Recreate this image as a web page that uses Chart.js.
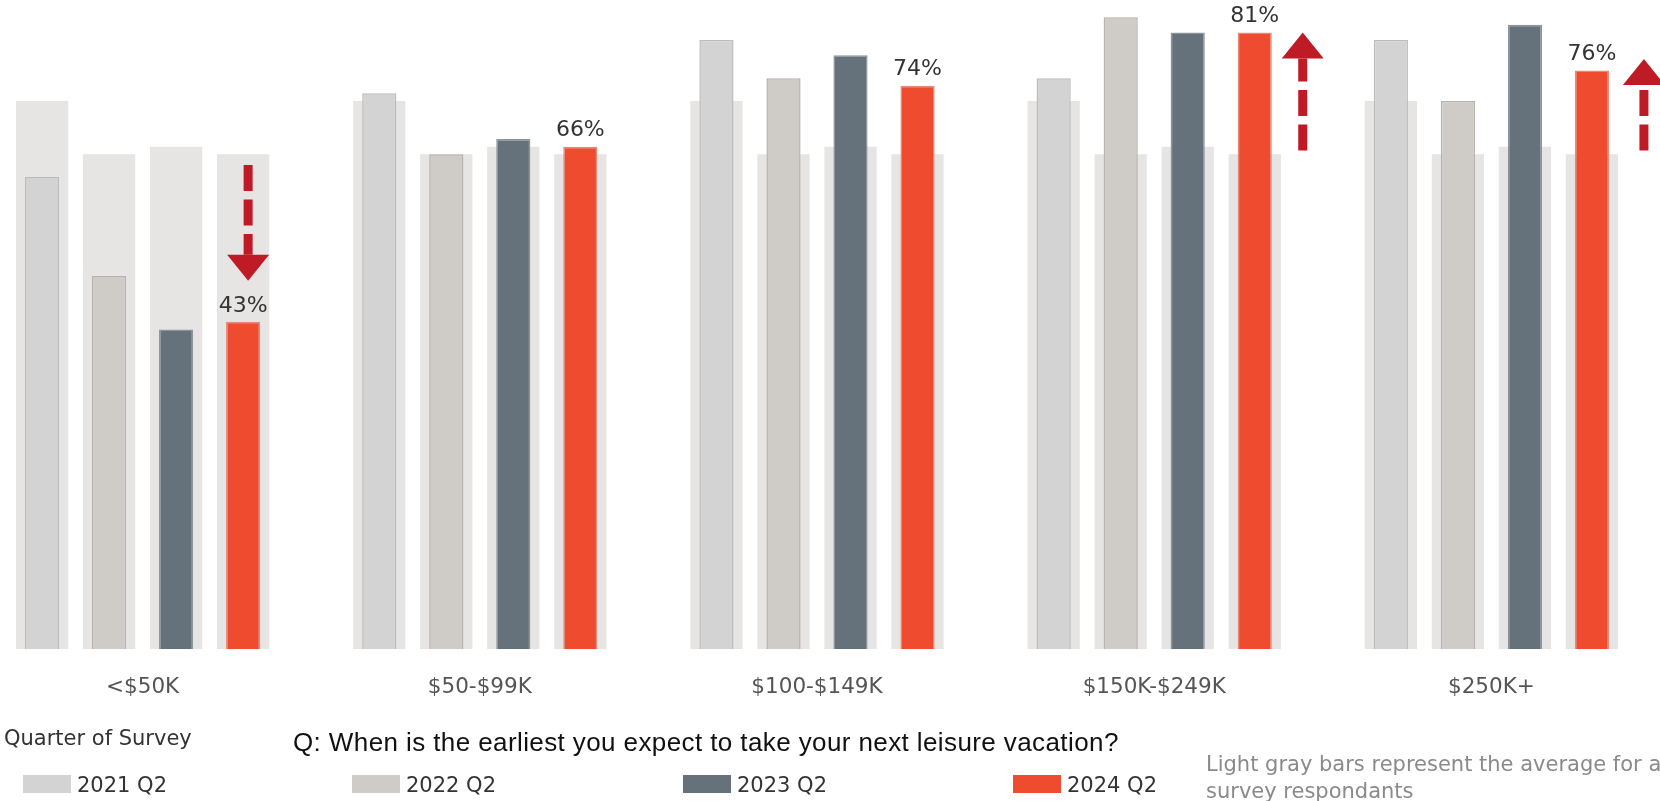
<!DOCTYPE html>
<html>
<head>
<meta charset="utf-8">
<script src="https://cdn.jsdelivr.net/npm/chart.js@4/dist/chart.umd.min.js"></script>
<style>
  html, body { margin: 0; padding: 0; background: #fff; }
  body { width: 1660px; height: 801px; overflow: hidden; position: relative; }
  #wrap { position: absolute; left: -26px; top: 0; width: 1686px; height: 801px; }
  .txt { position: absolute; white-space: nowrap; line-height: 1; }
  .dv { font-family: "DejaVu Sans", Verdana, sans-serif; font-size: 21px; color: #333; }
  .sw { position: absolute; top: 775px; width: 48px; height: 18px; }
</style>
</head>
<body>
<div id="wrap"><canvas id="myBarChart"></canvas></div>

<div class="txt dv" style="left:4px; top:728px;">Quarter of Survey</div>
<div class="txt" style="left:293px; top:729px; font-family:'Liberation Sans', Arial, sans-serif; font-size:26px; letter-spacing:0.4px; color:#111;">Q: When is the earliest you expect to take your next leisure vacation?</div>
<div id="legend"></div>
<div class="txt dv" style="left:1206px; top:754px; color:#8a8a8a;">Light gray bars represent the average for all</div>
<div class="txt dv" style="left:1206px; top:781px; color:#8a8a8a;">survey respondants</div>

<script>
const incomes = ['<$50K', '$50-$99K', '$100-$149K', '$150K-$249K', '$250K+'];
const quarters = ['2021 Q2', '2022 Q2', '2023 Q2', '2024 Q2'];

const q2021 = [62, 73, 80, 75, 80];
const q2022 = [49, 65, 75, 83, 72];
const q2023 = [42, 67, 78, 81, 82];
const q2024 = [43, 66, 74, 81, 76];

// average for all respondents, one per quarter
const allAvg = [72, 65, 66, 65];

const fills = ['#d3d3d3', '#cfccc8', '#66727b', '#ef4b2e'];
const borders = ['#bcbcbc', '#b6b2ae', '#8c959b', '#e58a78'];
const avgColor = '#e6e5e3';

// red dashed arrows: category, direction, value range, offset from the 2024 bar
const arrows = [
  { cat: 0, dir: 'down', from: 63.6, to: 48.4, dx: 5 },
  { cat: 3, dir: 'up', from: 65.5, to: 81, dx: 48 },
  { cat: 4, dir: 'up', from: 65.5, to: 77.5, dx: 52 },
];

// html legend
const legendEl = document.getElementById('legend');
const legendLeft = [23, 352, 683, 1013];
quarters.forEach((q, i) => {
  const sw = document.createElement('div');
  sw.className = 'sw';
  sw.style.left = legendLeft[i] + 'px';
  sw.style.background = fills[i];
  legendEl.appendChild(sw);
  const t = document.createElement('div');
  t.className = 'txt dv';
  t.style.left = (legendLeft[i] + 54) + 'px';
  t.style.top = '775px';
  t.textContent = q;
  legendEl.appendChild(t);
});

const series = [q2021, q2022, q2023, q2024];

// avg bar and quarter bar share one slot (same stack id), y not stacked
const avgSets = quarters.map((q, i) => ({
  label: q + ' avg',
  data: incomes.map(() => allAvg[i]),
  stack: 's' + i,
  backgroundColor: avgColor,
  borderWidth: 0,
  barPercentage: 0.78,
  categoryPercentage: 0.795,
  order: 2,
}));

const mainSets = quarters.map((q, i) => ({
  label: q,
  data: series[i],
  stack: 's' + i,
  backgroundColor: fills[i],
  borderColor: borders[i],
  borderWidth: 1.5,
  barPercentage: 0.51,
  categoryPercentage: 0.795,
  order: 1,
}));

const valueLabels = {
  id: 'valueLabels',
  afterDatasetsDraw(chart) {
    const { ctx } = chart;
    const idx = chart.data.datasets.findIndex(d => d.label === '2024 Q2');
    const meta = chart.getDatasetMeta(idx);
    ctx.save();
    ctx.font = '22px "DejaVu Sans", Verdana, sans-serif';
    ctx.fillStyle = '#333';
    ctx.textAlign = 'center';
    ctx.textBaseline = 'bottom';
    meta.data.forEach((bar, j) => {
      ctx.fillText(chart.data.datasets[idx].data[j] + '%', bar.x, bar.y - 5);
    });
    ctx.restore();
  },
};

const dashedArrows = {
  id: 'dashedArrows',
  afterDatasetsDraw(chart) {
    const { ctx } = chart;
    const y = chart.scales.y;
    const idx = chart.data.datasets.findIndex(d => d.label === '2024 Q2');
    const meta = chart.getDatasetMeta(idx);
    const headLen = 26;
    const headW = 42;
    ctx.save();
    ctx.strokeStyle = '#be1b27';
    ctx.fillStyle = '#be1b27';
    arrows.forEach(a => {
      const x = meta.data[a.cat].x + a.dx;
      const yTail = y.getPixelForValue(a.from);
      const yTip = y.getPixelForValue(a.to);
      const sign = a.dir === 'down' ? 1 : -1;
      const yBase = yTip - sign * headLen;
      ctx.lineWidth = 9;
      ctx.setLineDash([26, 8.5]);
      ctx.beginPath();
      ctx.moveTo(x, yTail);
      ctx.lineTo(x, yBase);
      ctx.stroke();
      ctx.setLineDash([]);
      ctx.beginPath();
      ctx.moveTo(x - headW / 2, yBase);
      ctx.lineTo(x + headW / 2, yBase);
      ctx.lineTo(x, yTip);
      ctx.closePath();
      ctx.fill();
    });
    ctx.restore();
  },
};

const ctx = document.getElementById('myBarChart').getContext('2d');
const myBarChart = new Chart(ctx, {
  type: 'bar',
  data: {
    labels: incomes,
    datasets: [...avgSets, ...mainSets],
  },
  options: {
    responsive: true,
    maintainAspectRatio: false,
    animation: false,
    layout: { padding: { top: 2, bottom: 76, left: 0, right: 0 } },
    plugins: {
      legend: { display: false },
      tooltip: { enabled: false },
    },
    scales: {
      x: {
        offset: true,
        grid: { display: false, drawTicks: false },
        border: { display: false },
        ticks: {
          padding: 25,
          color: '#555',
          font: { family: '"DejaVu Sans", Verdana, sans-serif', size: 21.5 },
        },
      },
      y: {
        display: false,
        stacked: false,
        min: 0,
        max: 85,
      },
    },
  },
  plugins: [valueLabels, dashedArrows],
});
</script>
</body>
</html>
